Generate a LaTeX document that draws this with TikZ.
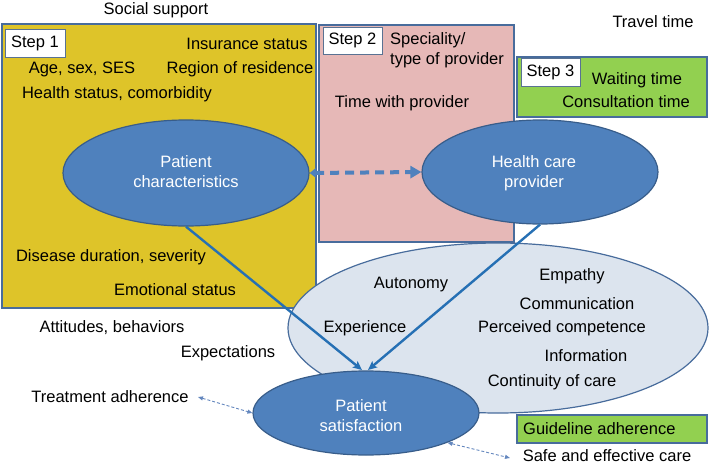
\documentclass[tikz,border=0pt]{standalone}
\usepackage{fontspec}
\setmainfont{Liberation Sans}
\usetikzlibrary{shapes.geometric,arrows.meta}
\definecolor{yel}{RGB}{222,196,41}
\definecolor{pnk}{RGB}{230,184,183}
\definecolor{grn}{RGB}{146,208,80}
\definecolor{bdr}{RGB}{72,108,156}
\definecolor{blu}{RGB}{79,129,189}
\definecolor{bluedge}{RGB}{56,93,138}
\definecolor{lite}{RGB}{220,228,238}
\definecolor{arrc}{RGB}{38,112,180}
\definecolor{dotc}{RGB}{100,135,190}
\tikzset{
  txt/.style={font=\fontsize{16.5}{20}\selectfont, inner sep=0pt, text=black},
  wtxt/.style={font=\fontsize{16.5}{20}\selectfont, text=white, align=center},
  stepbox/.style={draw=bdr!70!gray, fill=white, line width=0.8pt, minimum width=60pt, minimum height=28pt, inner sep=0pt, font=\fontsize{16.5}{20}\selectfont},
  panel/.style={draw=bdr, line width=1.8pt},
  bell/.style={ellipse, fill=blu, draw=bluedge, line width=1.2pt, inner sep=0pt},
  arr/.style={draw=arrc, line width=2.4pt, -{Stealth[length=9pt,width=8pt,inset=2pt]}},
  dotarr/.style={draw=dotc, line width=0.9pt, densely dashed, {Triangle[length=5pt,width=4pt]}-{Triangle[length=5pt,width=4pt]}}
}
\begin{document}
\begin{tikzpicture}[x=1pt,y=-1pt]
\useasboundingbox (0,0) rectangle (709,468);
% panels
\draw[panel, fill=yel] (2,24) rectangle (316,308);
\draw[panel, fill=pnk] (319,25) rectangle (514,242);
\draw[panel, fill=grn] (517,57) rectangle (707,117);
% step labels
\node[stepbox] (s1) at (35,43) {Step 1};
\node[stepbox, minimum width=59pt, minimum height=27pt] (s2) at (352.5,40.5) {Step 2};
\node[stepbox, minimum width=59pt, minimum height=28pt] (s3) at (550.5,72) {Step 3};
% light ellipse
\node[ellipse, fill=lite, draw=bdr, line width=1.2pt, minimum width=420pt, minimum height=170pt, inner sep=0pt] (care) at (498,328) {};
% ellipses
\node[bell, minimum width=246pt, minimum height=106pt] (pc) at (186,173) {};
\node[wtxt] at (186,172) {Patient\\characteristics};
\node[bell, minimum width=236pt, minimum height=104pt] (hcp) at (540,172) {};
\node[wtxt] at (534,173) {Health care\\provider};
% dashed double arrow
\draw[draw=blu, line width=4pt, dash pattern=on 9pt off 6pt, {Triangle[length=6pt,width=9pt]}-{Triangle[length=11pt,width=12pt]}] (pc.east) -- (hcp.west);
% converging arrows
\coordinate (t1) at (362,370);
\coordinate (t2) at (368,370);
\draw[arr] (pc.south) -- (t1);
\draw[arr] (hcp.south) -- (t2);
% patient satisfaction
\node[bell, minimum width=226pt, minimum height=84pt] (ps) at (366,413) {};
\node[wtxt] at (361,416) {Patient\\satisfaction};
% texts
\node[txt] (ss) at (156,10) {Social support};
\node[txt] (ins) at (247,44) {Insurance status};
\node[txt] (age) at (82,69) {Age, sex, SES};
\node[txt] (reg) at (240,69) {Region of residence};
\node[txt] (hs) at (117,94) {Health status, comorbidity};
\node[txt] (dd) at (111,257) {Disease duration, severity};
\node[txt] (es) at (175,290) {Emotional status};
\node[txt] (att) at (112,328) {Attitudes, behaviors};
\node[txt] (exp) at (228,353) {Expectations};
\node[txt, align=left, anchor=west] (spec) at (390,50) {Speciality/\\type of provider};
\node[txt] (twp) at (402,103) {Time with provider};
\node[txt] (tt) at (653,22) {Travel time};
\node[txt] (wt) at (637,80) {Waiting time};
\node[txt] (ct) at (626,102) {Consultation time};
\node[txt] (aut) at (411,285) {Autonomy};
\node[txt] (emp) at (572,276) {Empathy};
\node[txt] (com) at (577,304) {Communication};
\node[txt] (xp) at (365,328) {Experience};
\node[txt] (pcomp) at (562,328) {Perceived competence};
\node[txt] (inf) at (586,356) {Information};
\node[txt] (cont) at (552,382) {Continuity of care};
\node[txt] (ta) at (110,397) {Treatment adherence};
\draw[panel, fill=grn] (517,415) rectangle (707,443);
\node[txt, anchor=west] (ga) at (523,429) {Guideline adherence};
\node[txt] (sec) at (607,456) {Safe and effective care};
% dotted arrows
\coordinate (tae) at (198,397);
\coordinate (sece) at (510,458);
\draw[dotarr] (tae) -- (ps.west);
\draw[dotarr] (ps.-20) -- (sece);
\end{tikzpicture}
\end{document}
